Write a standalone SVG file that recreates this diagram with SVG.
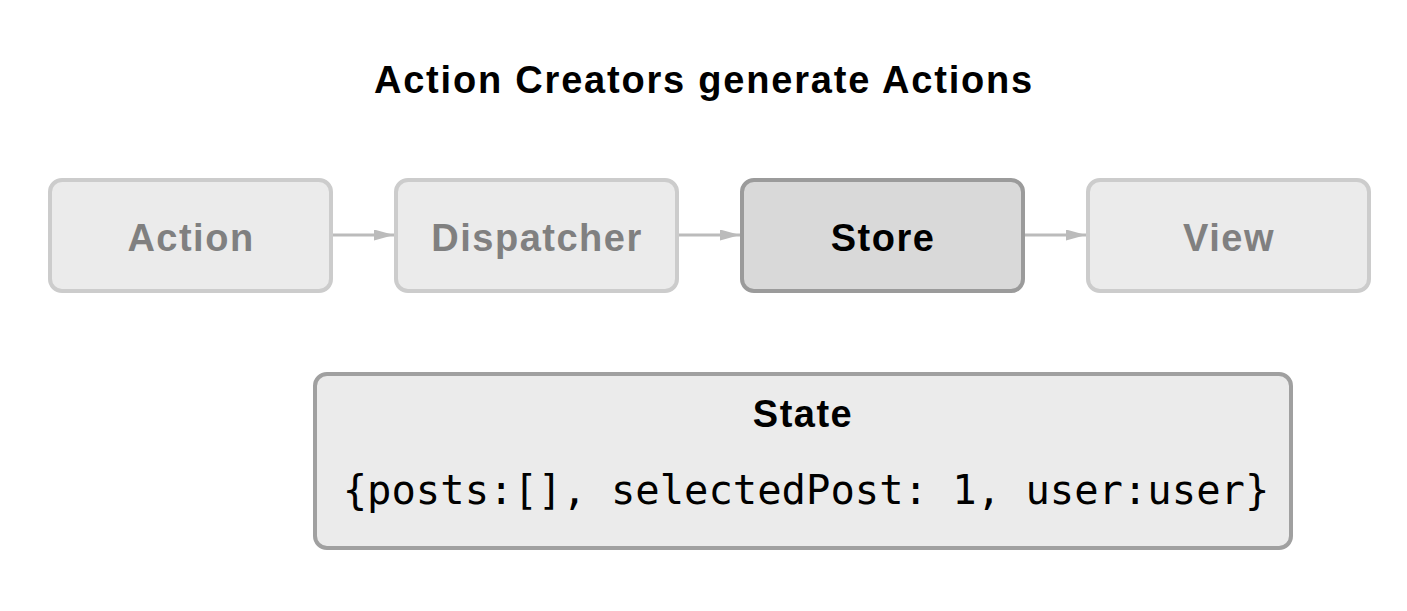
<svg xmlns="http://www.w3.org/2000/svg" width="1407" height="611" viewBox="0 0 1407 611">
<style>
.bg{fill:#ffffff}
.box{stroke-width:4}
.faded{fill:#ebebeb;stroke:#cccccc}
.active{fill:#d9d9d9;stroke:#9b9b9b}
.state{fill:#ebebeb;stroke:#a0a0a0}
.lbl{font-family:"Liberation Sans",Arial,Helvetica,sans-serif;font-weight:bold;font-size:38px;letter-spacing:1.5px;text-anchor:middle}
.fadedtxt{fill:#808080}
.dark{fill:#000000}
.title{font-family:"Liberation Sans",Arial,Helvetica,sans-serif;font-weight:bold;font-size:38px;letter-spacing:1.8px;text-anchor:middle;fill:#000}
.mono{font-family:"DejaVu Sans Mono","Liberation Mono",monospace;font-size:40.5px;text-anchor:middle;fill:#000}
.conn{stroke:#bbbbbb;stroke-width:3;fill:none}
</style>
<defs>
<marker id="arr" markerWidth="20" markerHeight="11" refX="20" refY="5.5" orient="auto" markerUnits="userSpaceOnUse">
<path d="M0,0 L20,5.5 L0,11 Z" fill="#bbbbbb"/>
</marker>
</defs>
<rect class="bg" x="0" y="0" width="1407" height="611"/>
<text class="title" x="704" y="93">Action Creators generate Actions</text>
<g id="connectors">
<line class="conn" x1="333" y1="235" x2="394" y2="235" marker-end="url(#arr)"/>
<line class="conn" x1="679" y1="235" x2="740" y2="235" marker-end="url(#arr)"/>
<line class="conn" x1="1025" y1="235" x2="1086" y2="235" marker-end="url(#arr)"/>
</g>
<g id="action">
<rect class="box faded" x="50" y="180" width="281" height="111" rx="12"/>
<text class="lbl fadedtxt" x="191" y="251">Action</text>
</g>
<g id="dispatcher">
<rect class="box faded" x="396" y="180" width="281" height="111" rx="12"/>
<text class="lbl fadedtxt" x="537" y="251">Dispatcher</text>
</g>
<g id="store">
<rect class="box active" x="742" y="180" width="281" height="111" rx="12"/>
<text class="lbl dark" x="883" y="251">Store</text>
</g>
<g id="view">
<rect class="box faded" x="1088" y="180" width="281" height="111" rx="12"/>
<text class="lbl fadedtxt" x="1229" y="251">View</text>
</g>
<g id="state">
<rect class="box state" x="315" y="374" width="976" height="174" rx="12"/>
<text class="lbl dark" x="803" y="427">State</text>
<text class="mono" x="806" y="504">{posts:[], selectedPost: 1, user:user}</text>
</g>
</svg>
